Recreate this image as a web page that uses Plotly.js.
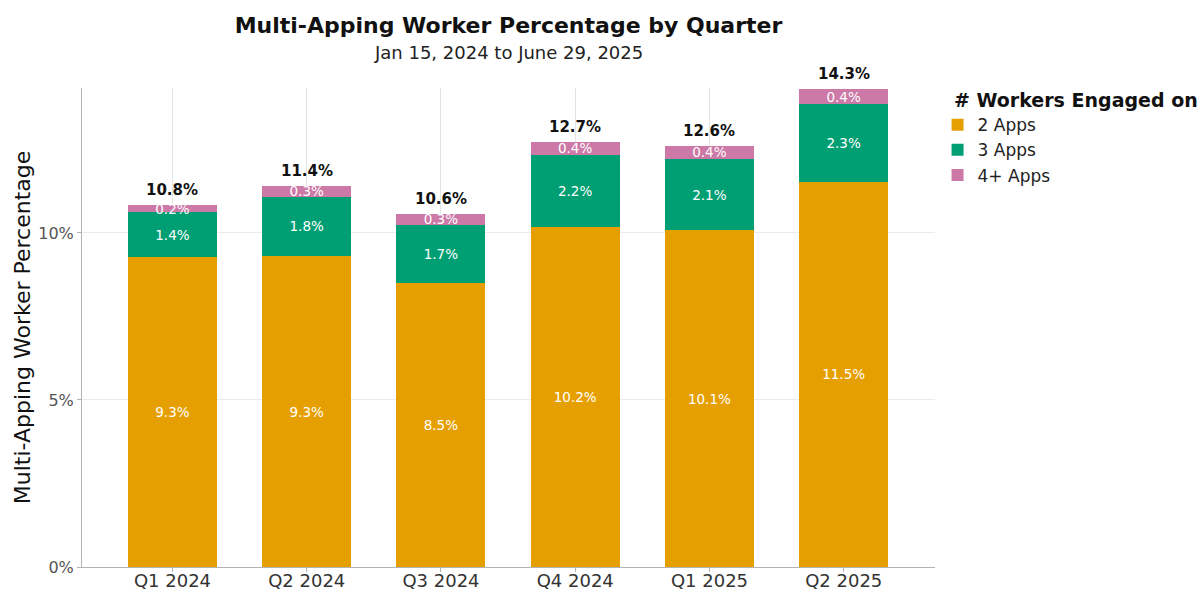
<!DOCTYPE html>
<html>
<head>
<meta charset="utf-8">
<script src="https://cdn.plot.ly/plotly-3.0.1.min.js"></script>
<style>
  html, body { margin: 0; padding: 0; background: #ffffff; }
  #chart { width: 1203px; height: 590px; }
</style>
</head>
<body>
<div id="chart"></div>
<script>
var quarters = ["Q1 2024", "Q2 2024", "Q3 2024", "Q4 2024", "Q1 2025", "Q2 2025"];
var apps2 = [9.27, 9.31, 8.50, 10.18, 10.08, 11.54];
var apps3 = [1.36, 1.78, 1.74, 2.16, 2.14, 2.33];
var apps4 = [0.20, 0.31, 0.34, 0.38, 0.38, 0.43];
var seriesNames = ["2 Apps", "3 Apps", "4+ Apps"];
var seriesColors = ["#E69F00", "#009E73", "#CC79A7"];
var yTickVals = [0, 5, 10];
var yTickText = ["0%", "5%", "10%"];
var legendTitle = "# Workers Engaged on";
var chartTitle = "Multi-Apping Worker Percentage by Quarter";
var chartSubtitle = "Jan 15, 2024 to June 29, 2025";
var yTitle = "Multi-Apping Worker Percentage";

var FONT = "DejaVu Sans, Verdana, sans-serif";

function fmt(v) { return v.toFixed(1) + "%"; }

var seriesData = [apps2, apps3, apps4];
var traces = seriesData.map(function (vals, i) {
  return {
    type: "bar",
    name: seriesNames[i],
    x: quarters,
    y: vals,
    width: 0.663,
    marker: { color: seriesColors[i], line: { width: 0 } },
    text: vals.map(fmt),
    textposition: "inside",
    insidetextanchor: "middle",
    constraintext: "none",
    textangle: 0,
    textfont: { family: FONT, size: 13.5, color: "#ffffff" },
    hoverinfo: "x+y+name",
    cliponaxis: false
  };
});

var totals = quarters.map(function (q, i) { return apps2[i] + apps3[i] + apps4[i]; });
var annotations = quarters.map(function (q, i) {
  return {
    x: q, y: totals[i], xref: "x", yref: "y",
    text: "<b>" + fmt(totals[i]) + "</b>",
    showarrow: false, yanchor: "bottom", yshift: 4,
    font: { family: FONT, size: 15, color: "#111111" }
  };
});
annotations.push({
  xref: "paper", yref: "paper", x: 0.5, y: 1, yanchor: "middle", yshift: 36,
  text: chartSubtitle, showarrow: false,
  font: { family: FONT, size: 18, color: "#222222" }
});
annotations.push({
  xref: "paper", yref: "paper", x: 1.02, xanchor: "left", y: 0.975, yanchor: "middle",
  text: "<b>" + legendTitle + "</b>", showarrow: false,
  font: { family: FONT, size: 19, color: "#111111" }
});

var layout = {
  width: 1203, height: 590,
  margin: { l: 82, r: 268, t: 88, b: 23, pad: 0 },
  paper_bgcolor: "#ffffff", plot_bgcolor: "#ffffff",
  barmode: "stack",
  title: {
    text: "<b>" + chartTitle + "</b>",
    x: 0.5, xref: "paper", xanchor: "center",
    y: 0.957, yref: "container", yanchor: "middle",
    font: { family: FONT, size: 22, color: "#111111" }
  },
  xaxis: {
    type: "category",
    range: [-0.674, 5.68],
    showgrid: true, gridcolor: "#e4e4e4", gridwidth: 1,
    showline: true, linecolor: "#b3b3b3", linewidth: 1,
    ticks: "outside", ticklen: 4, tickcolor: "#b3b3b3",
    ticklabelstandoff: -7,
    tickfont: { family: FONT, size: 18, color: "#333333" },
    automargin: false, zeroline: false, fixedrange: true
  },
  yaxis: {
    range: [0, 14.34],
    tickvals: yTickVals, ticktext: yTickText,
    showgrid: true, gridcolor: "#ebebeb", gridwidth: 1,
    showline: true, linecolor: "#b3b3b3", linewidth: 1,
    ticks: "outside", ticklen: 4, tickcolor: "#b3b3b3",
    tickfont: { family: FONT, size: 16, color: "#555555" },
    title: { text: yTitle, standoff: 1,
             font: { family: FONT, size: 22, color: "#111111" } },
    automargin: false, zeroline: false, fixedrange: true
  },
  legend: {
    x: 1.003, xanchor: "left", y: 0.96, yanchor: "top",
    traceorder: "normal",
    font: { family: FONT, size: 17, color: "#222222" },
    itemwidth: 30, tracegroupgap: 0
  },
  annotations: annotations,
  showlegend: true
};

Plotly.newPlot("chart", traces, layout, { displayModeBar: false, staticPlot: true });
</script>
</body>
</html>
